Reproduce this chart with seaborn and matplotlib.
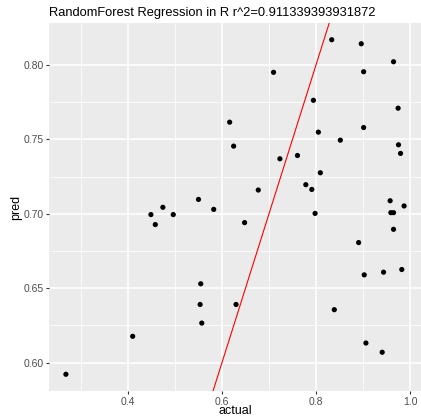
import numpy as np
import pandas as pd
import matplotlib
matplotlib.use("Agg")
import matplotlib.pyplot as plt
import seaborn as sns
from matplotlib.ticker import FixedLocator

actual = [0.8335, 0.8963, 0.965, 0.7097, 0.9014, 0.7945, 0.9748, 0.6163, 0.9014, 0.8051, 0.8518,
          0.6248, 0.9756, 0.9799, 0.7232, 0.7606, 0.8093, 0.7784, 0.7911, 0.6772, 0.55, 0.9578,
          0.9875, 0.4742, 0.5824, 0.4488, 0.4963, 0.7981, 0.9593, 0.965, 0.4581, 0.6481, 0.965,
          0.8908, 0.9027, 0.9438, 0.9826, 0.5548, 0.5535, 0.6299, 0.557, 0.839, 0.41, 0.9063,
          0.9409, 0.2679]
pred = [0.817, 0.8143, 0.8022, 0.7951, 0.7955, 0.7763, 0.771, 0.7616, 0.758, 0.7549, 0.7495,
        0.7455, 0.7464, 0.7406, 0.737, 0.7392, 0.7276, 0.7196, 0.7164, 0.716, 0.7097, 0.7088,
        0.7053, 0.7044, 0.703, 0.6995, 0.6995, 0.7003, 0.7008, 0.7008, 0.6928, 0.6941, 0.6896,
        0.6807, 0.659, 0.6608, 0.6626, 0.653, 0.6391, 0.6391, 0.6266, 0.6356, 0.6177, 0.6132,
        0.607, 0.5922]
title = "RandomForest Regression in R r^2=0.911339393931872"
x_ticks = [0.4, 0.6, 0.8, 1.0]
x_tick_labels = ["0.4", "0.6", "0.8", "1.0"]
y_ticks = [0.60, 0.65, 0.70, 0.75, 0.80]
y_tick_labels = ["0.60", "0.65", "0.70", "0.75", "0.80"]

df = pd.DataFrame({"actual": actual, "pred": pred})

sns.set_theme(style="darkgrid")
plt.rcParams["font.family"] = ["Liberation Sans", "DejaVu Sans"]

fig = plt.figure(figsize=(4.21, 4.18), dpi=100)
ax = fig.add_axes([49/421, (418-391)/418, (421-49)/421, (391-23)/418])
ax.set_facecolor("#EBEBEB")

sns.scatterplot(data=df, x="actual", y="pred", ax=ax, color="black", s=14,
                edgecolor="none", zorder=3)

xr = max(actual) - min(actual)
yr = max(pred) - min(pred)
xlim = (min(actual) - 0.05*xr, max(actual) + 0.05*xr)
ylim = (min(pred) - 0.05*yr, max(pred) + 0.05*yr)
ax.set_xlim(xlim)
ax.set_ylim(ylim)

line_x = np.array(xlim)
ax.plot(line_x, line_x, color="red", lw=0.8, zorder=2)

ax.xaxis.set_major_locator(FixedLocator(x_ticks))
ax.yaxis.set_major_locator(FixedLocator(y_ticks))
ax.set_xticklabels(x_tick_labels)
ax.set_yticklabels(y_tick_labels)
ax.xaxis.set_minor_locator(FixedLocator([0.3, 0.5, 0.7, 0.9]))
ax.yaxis.set_minor_locator(FixedLocator([0.625, 0.675, 0.725, 0.775]))
ax.grid(which="major", color="white", lw=1.1)
ax.grid(which="minor", color="white", lw=0.55)
ax.set_axisbelow(True)
for s in ax.spines.values():
    s.set_visible(False)
ax.tick_params(axis="both", which="major", length=2.5, width=0.8, color="#333333",
               labelsize=7.5, labelcolor="#4D4D4D", pad=1.5, left=True, bottom=True)
ax.tick_params(which="minor", length=0)

ax.set_xlabel("actual", fontsize=9, color="black", labelpad=-1)
ax.set_ylabel("pred", fontsize=9, color="black", labelpad=1)
ax.set_title(title, fontsize=9.3, loc="left", pad=5, color="black")

fig.savefig("out.png", dpi=100)
